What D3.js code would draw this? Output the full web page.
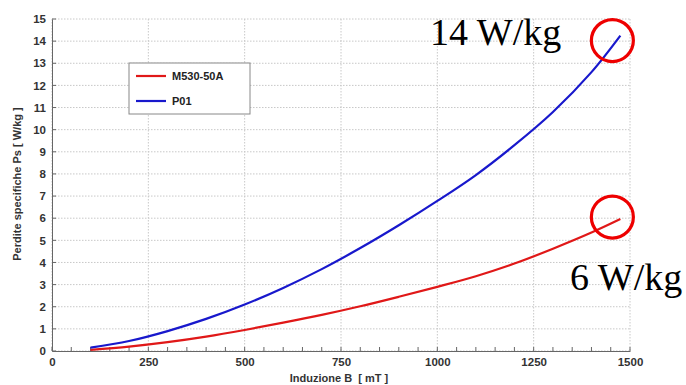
<!DOCTYPE html>
<html>
<head>
<meta charset="utf-8">
<script src="https://cdn.jsdelivr.net/npm/d3@7"></script>
<style>
  body { margin: 0; background: #fff; }
  svg { display: block; }
</style>
</head>
<body>
<div id="chart"></div>
<script>
// data
var induction = [100, 200, 300, 400, 500, 600, 700, 800, 900, 1000, 1100, 1200, 1300, 1400, 1475];
var lossM530 = [0.05, 0.2, 0.4, 0.65, 0.95, 1.28, 1.63, 2.02, 2.45, 2.9, 3.38, 3.95, 4.62, 5.35, 5.96];
var lossP01 = [0.15, 0.45, 0.9, 1.45, 2.1, 2.85, 3.7, 4.65, 5.68, 6.78, 7.95, 9.3, 10.8, 12.6, 14.25];
var seriesNames = ["M530-50A", "P01"];
var seriesColors = ["#e01818", "#1818cc"];
var xTicks = [0, 250, 500, 750, 1000, 1250, 1500];
var yTicks = d3.range(0, 16);
var callouts = [{x: 1475, y: 14.25, label: "14 W/kg"}, {x: 1475, y: 5.96, label: "6 W/kg"}];

function main() {
    var W = 686, H = 385;
    var margin = {top: 19, right: 56, bottom: 34, left: 52},
        width = W - margin.left - margin.right,
        height = H - margin.top - margin.bottom;

    var svg = d3.select("#chart").append("svg")
        .attr("width", W)
        .attr("height", H);

    var g = svg.append("g")
        .attr("transform", "translate(" + margin.left + "," + margin.top + ")");

    var x = d3.scaleLinear().domain([0, 1500]).range([0, width]);
    var y = d3.scaleLinear().domain([0, 15]).range([height, 0]);

    // grid
    g.append("g").selectAll("line")
        .data(yTicks)
        .join("line")
        .attr("x1", 0).attr("x2", width)
        .attr("y1", d => y(d)).attr("y2", d => y(d))
        .attr("stroke", "#c8c8c8")
        .attr("stroke-dasharray", "1.5,1.5");
    g.append("g").selectAll("line")
        .data(xTicks)
        .join("line")
        .attr("x1", d => x(d)).attr("x2", d => x(d))
        .attr("y1", 0).attr("y2", height)
        .attr("stroke", "#c8c8c8")
        .attr("stroke-dasharray", "1.5,1.5");

    // x axis
    var xAxis = g.append("g")
        .attr("transform", "translate(0," + height + ")")
        .call(d3.axisBottom(x).tickValues(xTicks).tickFormat(d3.format("d")).tickSize(0).tickPadding(7));
    xAxis.select(".domain").attr("stroke", "#666");
    xAxis.selectAll("text")
        .attr("font-family", "Liberation Sans, Arial, sans-serif")
        .attr("font-weight", "bold")
        .attr("font-size", 11.5)
        .attr("fill", "#333");
    // minor ticks pointing inward
    g.append("g").selectAll("line")
        .data(d3.range(0, 1501, 50))
        .join("line")
        .attr("x1", d => x(d)).attr("x2", d => x(d))
        .attr("y1", height).attr("y2", height - 4)
        .attr("stroke", "#666");

    // y axis
    var yAxis = g.append("g")
        .call(d3.axisLeft(y).tickValues(yTicks).tickSize(0).tickPadding(6));
    yAxis.select(".domain").attr("stroke", "#666");
    yAxis.selectAll("text")
        .attr("font-family", "Liberation Sans, Arial, sans-serif")
        .attr("font-weight", "bold")
        .attr("font-size", 11.5)
        .attr("fill", "#333");
    g.append("g").selectAll("line")
        .data(yTicks)
        .join("line")
        .attr("x1", 0).attr("x2", 4)
        .attr("y1", d => y(d)).attr("y2", d => y(d))
        .attr("stroke", "#666");

    // axis titles
    svg.append("text")
        .attr("transform", "translate(21," + (margin.top + 165) + ") rotate(-90)")
        .attr("text-anchor", "middle")
        .attr("font-family", "Liberation Sans, Arial, sans-serif")
        .attr("font-weight", "bold")
        .attr("font-size", 11)
        .attr("fill", "#333")
        .text("Perdite specifiche Ps [ W/kg ]");
    svg.append("text")
        .attr("x", 339)
        .attr("y", 382)
        .attr("text-anchor", "middle")
        .attr("font-family", "Liberation Sans, Arial, sans-serif")
        .attr("font-weight", "bold")
        .attr("font-size", 11)
        .attr("fill", "#333")
        .style("white-space", "pre")
        .text("Induzione B  [ mT ]");

    // lines
    var line = d3.line()
        .x(d => x(d[0]))
        .y(d => y(d[1]))
        .curve(d3.curveCatmullRom);
    [lossM530, lossP01].forEach(function (vals, i) {
        g.append("path")
            .datum(induction.map((b, j) => [b, vals[j]]))
            .attr("fill", "none")
            .attr("stroke", seriesColors[i])
            .attr("stroke-width", 2.2)
            .attr("d", line);
    });

    // legend
    var leg = svg.append("g").attr("transform", "translate(129,63)");
    leg.append("rect")
        .attr("width", 121).attr("height", 51)
        .attr("fill", "#fff")
        .attr("stroke", "#888");
    seriesNames.forEach(function (name, i) {
        leg.append("line")
            .attr("x1", 7).attr("x2", 37)
            .attr("y1", 13 + i * 25).attr("y2", 13 + i * 25)
            .attr("stroke", seriesColors[i])
            .attr("stroke-width", 2.2);
        leg.append("text")
            .attr("x", 43).attr("y", 17 + i * 25)
            .attr("font-family", "Liberation Sans, Arial, sans-serif")
            .attr("font-weight", "bold")
            .attr("font-size", 11)
            .attr("fill", "#222")
            .text(name);
    });

    // callouts: circles slightly offset from the curve ends, as in the original
    var circleShift = [[-8, 5], [-8, -2]];
    g.selectAll("circle.callout")
        .data(callouts)
        .join("circle")
        .attr("class", "callout")
        .attr("cx", (d, i) => x(d.x) + circleShift[i][0])
        .attr("cy", (d, i) => y(d.y) + circleShift[i][1])
        .attr("r", 21)
        .attr("fill", "none")
        .attr("stroke", "#ee0000")
        .attr("stroke-width", 3.2);
    svg.append("text")
        .attr("x", 430).attr("y", 45)
        .attr("font-family", "Liberation Serif, Times New Roman, serif")
        .attr("font-size", 38)
        .attr("fill", "#000")
        .text(callouts[0].label);
    svg.append("text")
        .attr("x", 570).attr("y", 290)
        .attr("font-family", "Liberation Serif, Times New Roman, serif")
        .attr("font-size", 38)
        .attr("fill", "#000")
        .text(callouts[1].label);
}

main();
</script>
</body>
</html>
